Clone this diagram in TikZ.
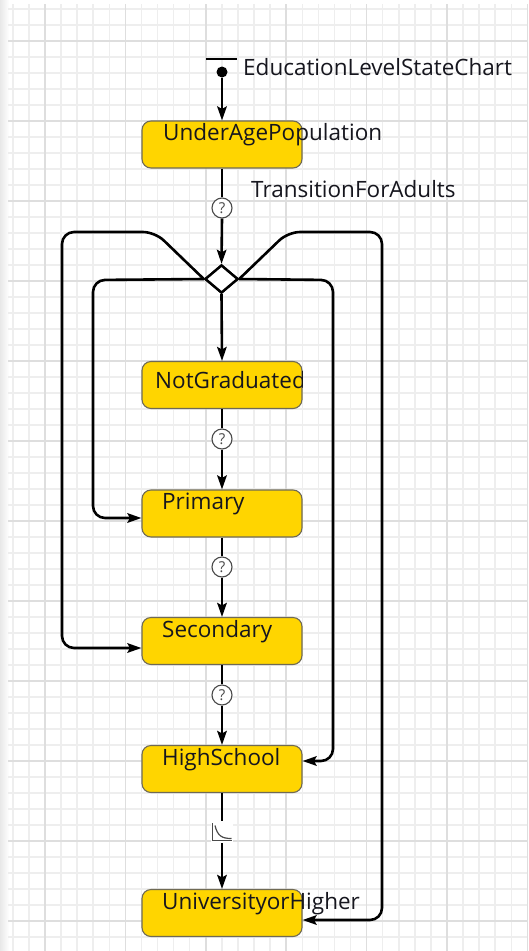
\documentclass[tikz,border=0pt]{standalone}
\usepackage{fontspec}
\setmainfont{Open Sans}
\usetikzlibrary{arrows.meta,shapes.geometric}
\definecolor{statefill}{HTML}{FFD500}
\definecolor{stateborder}{HTML}{6F6A55}
\definecolor{labeltext}{HTML}{16161E}
\definecolor{gridminor}{HTML}{EEEEEE}
\definecolor{gridmajor}{HTML}{DEDEDE}
\definecolor{markgray}{HTML}{4A4A4A}
\begin{document}
\begin{tikzpicture}[x=1pt,y=-1pt,
  state/.style={draw=stateborder, fill=statefill, rounded corners=9pt, line width=1.1pt,
    minimum width=160pt, minimum height=47pt, inner sep=0pt},
  lbl/.style={anchor=base west, inner sep=0pt, font=\fontsize{22.5}{26}\selectfont, text=labeltext},
  link/.style={line width=2.6pt, draw=black, rounded corners=12pt},
  flow/.style={link, -{Stealth[length=14pt,width=9.5pt,inset=2.5pt]}},
  guard/.style={circle, draw=markgray, fill=white, line width=1.1pt, minimum size=20pt, inner sep=0pt,
    font=\fontsize{15}{15}\selectfont, text=markgray},
  branch/.style={diamond, draw=black, fill=white, line width=2.4pt, minimum width=33pt,
    minimum height=28pt, inner sep=0pt},
  gridline/.style={line width=1.5pt, draw=gridminor},
  gridbold/.style={line width=1.5pt, draw=gridmajor}]

% canvas and grid
\useasboundingbox (0,0) rectangle (528,951);
\fill[white] (0,0) rectangle (528,951);
\shade[left color=black!9, right color=white] (0,0) rectangle (9,951);
\foreach \i in {0,...,32} {\draw[gridline] ({12.84+16.08*\i},4) -- ({12.84+16.08*\i},951);}
\foreach \j in {0,...,58} {\draw[gridline] (8,{9+16*\j}) -- (528,{9+16*\j});}
\foreach \i in {2,7,...,32} {\draw[gridbold] ({12.84+16.08*\i},4) -- ({12.84+16.08*\i},951);}
\foreach \j in {2,7,...,57} {\draw[gridbold] (8,{9+16*\j}) -- (528,{9+16*\j});}

% states
\node[state] (under) at (222,144.5) {};
\node[state] (notg)  at (222,385)   {};
\node[state] (prim)  at (222,513.5) {};
\node[state] (sec)   at (222,641)   {};
\node[state] (high)  at (222,769)   {};
\node[state] (univ)  at (222,913)   {};

% initial pointer
\coordinate (barL) at (206,59);
\coordinate (barR) at (237,59);
\draw[line width=2.8pt] (barL) -- (barR);
\node[circle, fill=black, minimum size=11pt, inner sep=0pt] (init) at (222,72) {};
\draw[flow] (init) -- (under.north);

% branch point and guarded transitions
\node[branch] (dia) at (221.5,279) {};
\node[guard] (q1) at (222,208) {?};
\node[guard] (q2) at (222,439) {?};
\node[guard] (q3) at (222,567) {?};
\node[guard] (q4) at (222,695) {?};

\draw[link] (under.south) -- (q1.north);
\draw[flow] (q1.south) -- (dia.north);
\draw[flow] (dia.south) -- (notg.north);
\draw[link] (notg.south) -- (q2.north);
\draw[flow] (q2.south) -- (prim.north);
\draw[link] (prim.south) -- (q3.north);
\draw[flow] (q3.south) -- (sec.north);
\draw[link] (sec.south) -- (q4.north);
\draw[flow] (q4.south) -- (high.north);

% side branches out of the decision point
\draw[flow] (dia.west) -- (93,280) -- (93,518) -- ([yshift=-4.5pt]prim.west);
\draw[flow] (dia.west) -- (155,232) -- (62,232) -- (62,648) -- ([yshift=-7pt]sec.west);
\draw[flow] (dia.east) -- (333,280) -- (333,761) -- ([yshift=8pt]high.east);
\draw[flow] (dia.east) -- (288,232) -- (382,232) -- (382,920) -- ([yshift=-7pt]univ.east);
\node[branch] at (dia) {};

% timeout transition
\node[fill=white, minimum width=22pt, minimum height=22pt, inner sep=0pt] (tmo) at (222,832) {};
\draw[link] (high.south) -- (tmo.north);
\draw[flow] (tmo.south) -- (univ.north);
\draw[line width=1.3pt, draw=markgray] (212.5,823) -- (212.5,840.5) -- (231.5,840.5);
\draw[line width=1.2pt, draw=markgray] (215,825.5) .. controls (217.5,836) and (222,838.5) .. (231.5,838.5);

% labels
\node[lbl] (chartname) at (243,75) {EducationLevelStateChart};
\node[lbl] (adultname) at (251,197) {TransitionForAdults};
\node[lbl] (underL) at (163,140) {UnderAgePopulation};
\begin{scope}
\clip (140,355) rectangle (302.5,415);
\node[lbl] (notgL) at (155,388) {NotGraduated};
\end{scope}
\node[lbl] (primL) at (162,509) {Primary};
\node[lbl] (secL)  at (162,637) {Secondary};
\node[lbl] (highL) at (162,765) {HighSchool};
\node[lbl] (univL) at (162,909) {UniversityorHigher};
\end{tikzpicture}
\end{document}
